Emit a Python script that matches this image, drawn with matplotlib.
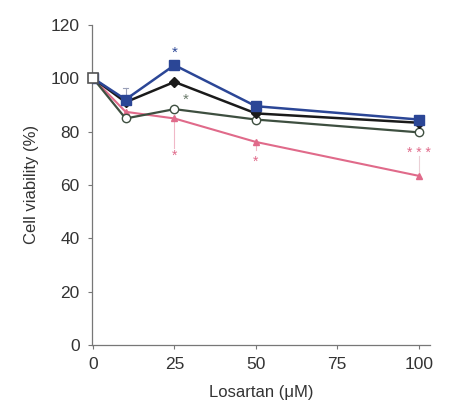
import matplotlib
matplotlib.use("Agg")
import matplotlib.pyplot as plt

doses = [0, 10, 25, 50, 100]
blue = [100, 92, 104.9, 89.5, 84.5]
black = [100, 91, 98.6, 86.8, 83.3]
green = [100, 84.9, 88.4, 84.5, 79.7]
pink = [100, 87.4, 84.9, 76.1, 63.4]
control_dose = [0]
control_val = [100]

xticks = [0, 25, 50, 75, 100]
yticks = [0, 20, 40, 60, 80, 100, 120]

plt.rcParams['font.family'] = ['Liberation Sans', 'DejaVu Sans']

fig = plt.figure(figsize=(4.49, 4.11), dpi=100)
ax = fig.add_axes([0.205, 0.1606, 0.753, 0.779])

c_blue = '#2b4696'
c_black = '#1a1a1a'
c_green = '#3e4f40'
c_pink = '#e06a8a'

# error bars (faint)
ax.plot([25, 25], [84.9, 74], color='#f0b8c8', lw=0.8, zorder=1)
ax.plot([50, 50], [76.1, 73], color='#f0b8c8', lw=0.8, zorder=1)
ax.plot([100, 100], [63.4, 71], color='#ead0d6', lw=0.8, zorder=1)
ax.plot([10, 10], [92, 96.5], color='#9aa0b8', lw=0.8, zorder=1)
ax.plot([9.2, 10.8], [96.5, 96.5], color='#9aa0b8', lw=0.8, zorder=1)

ax.plot(doses, pink, color=c_pink, lw=1.5, marker='^', ms=4, mfc=c_pink, mec=c_pink, zorder=3)
ax.plot(doses, green, color=c_green, lw=1.6, marker='o', ms=6, mfc='white', mec=c_green, zorder=4)
ax.plot(doses, black, color=c_black, lw=1.8, marker='D', ms=5, mfc=c_black, mec=c_black, zorder=5)
ax.plot(doses, blue, color=c_blue, lw=1.8, marker='s', ms=6.5, mfc=c_blue, mec=c_blue, zorder=6)
ax.plot(control_dose, control_val, linestyle='none', marker='s', ms=7, mfc='white',
        mec='#555555', mew=1.2, zorder=7, clip_on=False)

# significance marks
ax.text(25, 109.5, '*', color=c_blue, ha='center', va='center', fontsize=11)
ax.text(28.5, 92, '*', color='#6a7a6a', ha='center', va='center', fontsize=11)
ax.text(25, 71, '*', color=c_pink, ha='center', va='center', fontsize=10)
ax.text(50, 68.5, '*', color=c_pink, ha='center', va='center', fontsize=10)
ax.text(100, 72, '* * *', color=c_pink, ha='center', va='center', fontsize=10)

ax.set_xlim(-0.3, 103.5)
ax.set_ylim(0, 120)
ax.set_xticks(xticks)
ax.set_yticks(yticks)
ax.set_xticklabels([str(t) for t in xticks])
ax.set_yticklabels([str(t) for t in yticks])
for s in ['top', 'right']:
    ax.spines[s].set_visible(False)
for s in ['left', 'bottom']:
    ax.spines[s].set_color('#777777')
    ax.spines[s].set_linewidth(0.9)
ax.tick_params(axis='both', direction='out', length=3, width=0.8, color='#777777',
               labelsize=12.5, labelcolor='#333333', pad=6)
ax.set_xlabel('Losartan (μM)', fontsize=12, color='#333333', labelpad=9)
ax.set_ylabel('Cell viability (%)', fontsize=12, color='#333333', labelpad=8)

fig.savefig('out.png', dpi=100)
